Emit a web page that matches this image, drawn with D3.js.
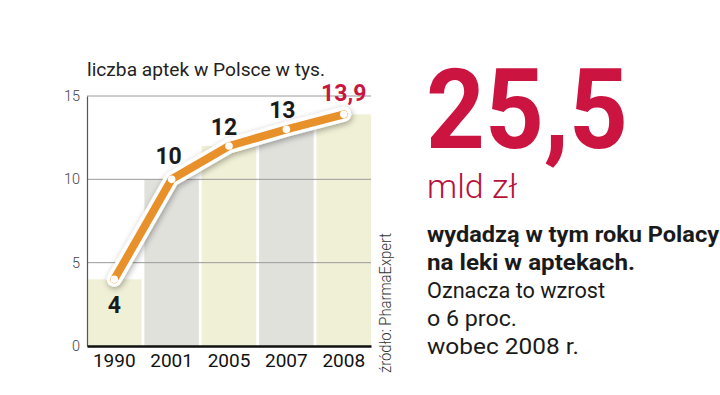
<!DOCTYPE html>
<html>
<head>
<meta charset="utf-8">
<script src="https://cdn.jsdelivr.net/npm/d3@7"></script>
<style>
  body { margin: 0; background: #fff; }
  svg { display: block; font-family: Roboto, "DejaVu Sans", sans-serif; }
</style>
</head>
<body>
<div id="chart"></div>
<script>
// data
const years = ['1990', '2001', '2005', '2007', '2008'];
const pharmacies = [4, 10, 12, 13, 13.9];
const valueLabels = ['4', '10', '12', '13', '13,9'];
const yTicks = [0, 5, 10, 15];
const barColors = ['#f0f0d6', '#e1e1dc'];

const width = 720, height = 395;
const margin = { left: 87, top: 96, right: 349, bottom: 49 };

const svg = d3.select('#chart')
  .append('svg')
  .attr('width', width)
  .attr('height', height);

const x = d3.scaleBand()
  .domain(years)
  .range([margin.left, width - margin.right])
  .paddingInner(0.05);

const y = d3.scaleLinear()
  .domain([0, 15])
  .range([height - margin.bottom, margin.top]);

const defs = svg.append('defs');
const shadow = defs.append('filter').attr('id', 'shadow')
  .attr('x', '-20%').attr('y', '-20%').attr('width', '140%').attr('height', '140%');
shadow.append('feGaussianBlur').attr('in', 'SourceAlpha').attr('stdDeviation', 3);
shadow.append('feOffset').attr('dx', 1).attr('dy', 2).attr('result', 'blur');
shadow.append('feComponentTransfer').append('feFuncA').attr('type', 'linear').attr('slope', 0.35);
const merge = shadow.append('feMerge');
merge.append('feMergeNode');
merge.append('feMergeNode').attr('in', 'SourceGraphic');

// title
svg.append('text')
  .attr('x', margin.left)
  .attr('y', 76)
  .attr('font-size', 18.5)
  .attr('fill', '#222')
  .attr('textLength', 238)
  .attr('lengthAdjust', 'spacingAndGlyphs')
  .text('liczba aptek w Polsce w tys.');

// bars
svg.append('g')
  .selectAll('rect')
  .data(pharmacies)
  .enter()
  .append('rect')
  .attr('x', (d, i) => x(years[i]))
  .attr('y', d => y(d))
  .attr('width', x.bandwidth())
  .attr('height', d => y(0) - y(d))
  .attr('fill', (d, i) => barColors[i % 2]);

// grid lines
svg.append('g')
  .selectAll('line')
  .data(yTicks.filter(t => t > 0))
  .enter()
  .append('line')
  .attr('x1', margin.left)
  .attr('x2', width - margin.right)
  .attr('y1', d => y(d))
  .attr('y2', d => y(d))
  .attr('stroke', '#9a9a9a')
  .attr('stroke-width', 1);

// left axis
const yAxis = svg.append('g')
  .attr('transform', `translate(${margin.left},0)`)
  .call(d3.axisLeft(y).tickValues(yTicks).tickSize(0).tickPadding(7));
yAxis.select('.domain').attr('stroke', '#555').attr('stroke-width', 1.2);
yAxis.selectAll('text')
  .attr('font-family', 'Roboto, sans-serif')
  .attr('font-size', 14.5)
  .attr('font-weight', 300)
  .attr('fill', '#444');

// bottom axis
const xAxis = svg.append('g')
  .attr('transform', `translate(0,${y(0)})`)
  .call(d3.axisBottom(x).tickSize(0).tickPadding(8));
xAxis.select('.domain').attr('stroke', '#111').attr('stroke-width', 2.5);
xAxis.selectAll('text')
  .attr('font-family', 'Roboto, sans-serif')
  .attr('font-size', 19)
  .attr('font-weight', 400)
  .attr('fill', '#111');

// line
const line = d3.line()
  .x((d, i) => x(years[i]) + x.bandwidth() / 2)
  .y(d => y(d));

svg.append('path')
  .datum(pharmacies)
  .attr('d', line)
  .attr('fill', 'none')
  .attr('stroke', '#fff')
  .attr('stroke-width', 15)
  .attr('stroke-linecap', 'round')
  .attr('stroke-linejoin', 'round')
  .attr('filter', 'url(#shadow)');

svg.append('path')
  .datum(pharmacies)
  .attr('d', line)
  .attr('fill', 'none')
  .attr('stroke', '#e8902a')
  .attr('stroke-width', 8)
  .attr('stroke-linecap', 'round')
  .attr('stroke-linejoin', 'round');

svg.append('g')
  .selectAll('circle')
  .data(pharmacies)
  .enter()
  .append('circle')
  .attr('cx', (d, i) => x(years[i]) + x.bandwidth() / 2)
  .attr('cy', d => y(d))
  .attr('r', 3.8)
  .attr('fill', '#fff');

// value labels
const labelOffsets = [[0, 34], [-3, -15], [-5, -11], [-4, -11], [0, -13]];
svg.append('g')
  .selectAll('text')
  .data(pharmacies)
  .enter()
  .append('text')
  .attr('x', (d, i) => x(years[i]) + x.bandwidth() / 2 + labelOffsets[i][0])
  .attr('y', (d, i) => y(d) + labelOffsets[i][1])
  .attr('text-anchor', 'middle')
  .attr('font-size', 23)
  .attr('font-weight', 700)
  .attr('fill', (d, i) => i === pharmacies.length - 1 ? '#c8163f' : '#1a1a1a')
  .text((d, i) => valueLabels[i]);

// source
svg.append('text')
  .attr('transform', 'translate(391,373) rotate(-90)')
  .attr('font-size', 16)
  .attr('font-weight', 300)
  .attr('fill', '#333')
  .attr('textLength', 140)
  .attr('lengthAdjust', 'spacingAndGlyphs')
  .text('źródło: PharmaExpert');

// right-hand block
svg.append('text')
  .attr('x', 426)
  .attr('y', 148)
  .attr('font-size', 112)
  .attr('font-weight', 700)
  .attr('fill', '#cc1440')
  .attr('textLength', 202)
  .attr('lengthAdjust', 'spacingAndGlyphs')
  .text('25,5');

svg.append('text')
  .attr('x', 427)
  .attr('y', 198)
  .attr('font-size', 34)
  .attr('font-weight', 300)
  .attr('fill', '#b8123a')
  .text('mld zł');

const notes = [
  { t: 'wydadzą w tym roku Polacy', bold: true, w: 292 },
  { t: 'na leki w aptekach.', bold: true, w: 208 },
  { t: 'Oznacza to wzrost', bold: false, w: 178 },
  { t: 'o 6 proc.', bold: false, w: 90 },
  { t: 'wobec 2008 r.', bold: false, w: 152 }
];
svg.append('g')
  .selectAll('text')
  .data(notes)
  .enter()
  .append('text')
  .attr('x', 427)
  .attr('y', (d, i) => 242 + i * 28)
  .attr('font-size', 21.5)
  .attr('font-weight', d => d.bold ? 700 : 400)
  .attr('fill', '#1a1a1a')
  .attr('textLength', d => d.w)
  .attr('lengthAdjust', 'spacingAndGlyphs')
  .text(d => d.t);
</script>
</body>
</html>
